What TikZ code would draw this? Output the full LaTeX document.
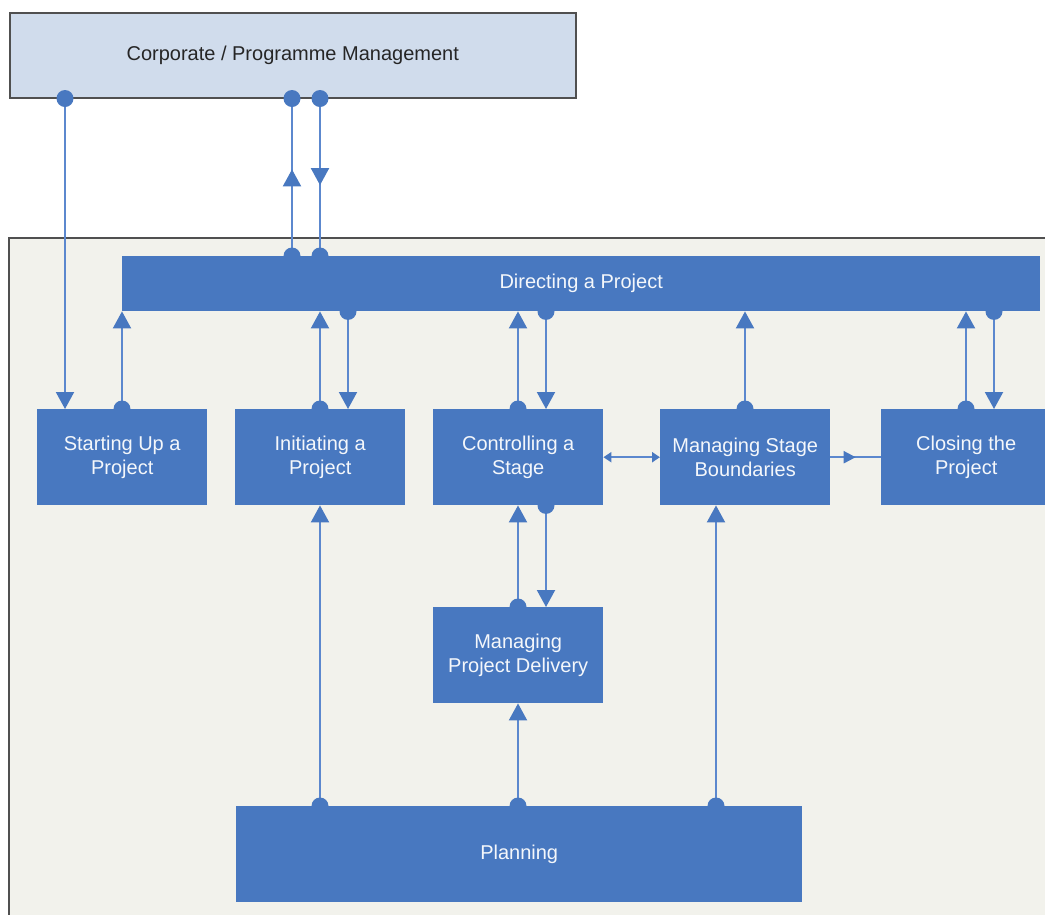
\documentclass[tikz,border=0pt]{standalone}
\usepackage{fontspec}
\setmainfont{Liberation Sans}
\usetikzlibrary{arrows.meta,decorations.markings}
\definecolor{boxc}{HTML}{4878C0}
\definecolor{linec}{HTML}{5C88CE}
\definecolor{bgc}{HTML}{F2F2EC}
\definecolor{topc}{HTML}{D0DCEC}
\definecolor{edgec}{HTML}{505050}
\begin{document}
\begin{tikzpicture}[x=1pt,y=-1pt,
  procbox/.style={fill=boxc, draw=none, anchor=north west, inner sep=0pt,
    align=center, text=white!94!boxc, font=\fontsize{20}{24}\selectfont},
  bigtip/.style={-{Triangle[width=18pt,length=17pt,color=boxc]}},
  smalltip/.style={{Triangle[width=10pt,length=8pt,color=boxc]}-{Triangle[width=10pt,length=8pt,color=boxc]}},
  flow/.style={draw=linec, line width=2pt},
  midup/.style={postaction={decorate}, decoration={markings,
    mark=at position #1 with {\arrow{Triangle[width=18pt,length=17pt,color=boxc]}}}},
  midsmall/.style={postaction={decorate}, decoration={markings,
    mark=at position #1 with {\arrow{Triangle[width=12pt,length=12pt,color=boxc]}}}},
  dotc/.style={fill=boxc}
]
\useasboundingbox (0,0) rectangle (1045,914);

% working area
\fill[bgc] (9,238) rectangle (1060,930);
\draw[edgec, line width=1.5pt] (9,930) -- (9,238) -- (1060,238);

% corporate level
\node[fill=topc, draw=edgec, line width=1.5pt, anchor=north west, inner sep=0pt,
  minimum width=566, minimum height=85, font=\fontsize{20}{24}\selectfont, text=black!85]
  (cpm) at (9,12) {Corporate / Programme Management};

% processes
\node[procbox, minimum width=918, minimum height=55] (dir) at (122,256) {Directing a Project};
\node[procbox, minimum width=170, minimum height=96] (sta) at (37,409) {Starting Up a\\Project};
\node[procbox, minimum width=170, minimum height=96] (ini) at (235,409) {Initiating a\\Project};
\node[procbox, minimum width=170, minimum height=96] (ctl) at (433,409) {Controlling a\\Stage};
\node[procbox, minimum width=170, minimum height=96] (msb) at (660,409) {Managing Stage\\Boundaries};
\node[procbox, minimum width=170, minimum height=96] (clo) at (881,409) {Closing the\\Project};
\node[procbox, minimum width=170, minimum height=96] (mpd) at (433,607) {Managing\\Project Delivery};
\node[procbox, minimum width=566, minimum height=96] (pla) at (236,806) {Planning};

% connection points
\coordinate (c65) at (65,0 |- cpm.south);
\coordinate (c292) at (292,0 |- cpm.south);
\coordinate (c320) at (320,0 |- cpm.south);
\coordinate (d292) at (292,0 |- dir.north);
\coordinate (d320) at (320,0 |- dir.north);
\coordinate (d122) at (122,0 |- dir.south);
\coordinate (d348) at (348,0 |- dir.south);
\coordinate (d546) at (546,0 |- dir.south);
\coordinate (d994) at (994,0 |- dir.south);
\coordinate (s65) at (65,0 |- sta.north);
\coordinate (s122) at (122,0 |- sta.north);
\coordinate (i320) at (320,0 |- ini.north);
\coordinate (i348) at (348,0 |- ini.north);
\coordinate (k518) at (518,0 |- ctl.north);
\coordinate (k546) at (546,0 |- ctl.north);
\coordinate (kb546) at (546,0 |- ctl.south);
\coordinate (m745) at (745,0 |- msb.north);
\coordinate (q966) at (966,0 |- clo.north);
\coordinate (q994) at (994,0 |- clo.north);
\coordinate (p518) at (518,0 |- mpd.north);
\coordinate (pl320) at (320,0 |- pla.north);
\coordinate (pl518) at (518,0 |- pla.north);
\coordinate (pl716) at (716,0 |- pla.north);

% connectors
\draw[flow, bigtip] (c65) -- (s65);
\draw[flow, bigtip] (s122) -- (d122);
\draw[flow, midup=0.55] (d292) -- (c292);
\draw[flow, midup=0.55] (c320) -- (d320);
\draw[flow, bigtip] (i320) -- (320,0 |- dir.south);
\draw[flow, bigtip] (d348) -- (i348);
\draw[flow, bigtip] (k518) -- (518,0 |- dir.south);
\draw[flow, bigtip] (d546) -- (k546);
\draw[flow, bigtip] (m745) -- (745,0 |- dir.south);
\draw[flow, bigtip] (q966) -- (966,0 |- dir.south);
\draw[flow, bigtip] (d994) -- (q994);
\draw[flow, smalltip] (ctl.east) -- (msb.west);
\draw[flow, midsmall=0.5] (msb.east) -- (clo.west);
\draw[flow, bigtip] (p518) -- (518,0 |- ctl.south);
\draw[flow, bigtip] (kb546) -- (546,0 |- mpd.north);
\draw[flow, bigtip] (pl320) -- (320,0 |- ini.south);
\draw[flow, bigtip] (pl518) -- (518,0 |- mpd.south);
\draw[flow, bigtip] (pl716) -- (716,0 |- msb.south);

% connection dots
\foreach \p in {c65,c292,c320,d292,d320,d348,d546,d994,s122,i320,k518,kb546,m745,q966,p518,pl320,pl518,pl716}
  \fill[dotc] (\p) circle (8.5);
\end{tikzpicture}
\end{document}
